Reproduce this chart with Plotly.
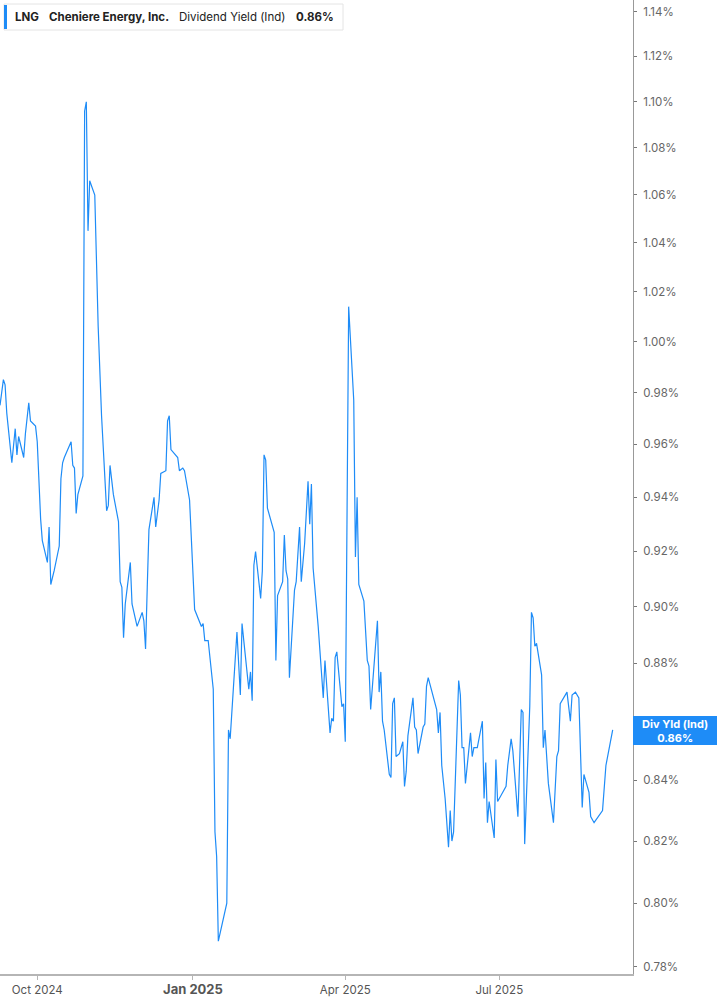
import math
import plotly.graph_objects as go

# LNG dividend yield (indicated), %
dates = [
    "2024-09-09", "2024-09-11", "2024-09-12", "2024-09-13", "2024-09-16", "2024-09-18",
    "2024-09-19", "2024-09-20", "2024-09-23", "2024-09-24", "2024-09-26", "2024-09-27",
    "2024-09-30", "2024-10-01", "2024-10-03", "2024-10-04", "2024-10-07", "2024-10-08",
    "2024-10-09", "2024-10-11", "2024-10-14", "2024-10-15", "2024-10-16", "2024-10-17",
    "2024-10-21", "2024-10-22", "2024-10-23", "2024-10-24", "2024-10-25", "2024-10-28",
    "2024-10-29", "2024-10-30", "2024-10-31", "2024-11-01", "2024-11-04", "2024-11-06",
    "2024-11-08", "2024-11-11", "2024-11-12", "2024-11-13", "2024-11-15", "2024-11-18",
    "2024-11-19", "2024-11-20", "2024-11-21", "2024-11-22", "2024-11-25", "2024-11-26",
    "2024-11-29", "2024-12-02", "2024-12-03", "2024-12-04", "2024-12-05", "2024-12-06",
    "2024-12-09", "2024-12-10", "2024-12-12", "2024-12-13", "2024-12-16", "2024-12-17",
    "2024-12-18", "2024-12-19", "2024-12-23", "2024-12-24", "2024-12-26", "2024-12-27",
    "2024-12-30", "2025-01-02", "2025-01-06", "2025-01-07", "2025-01-08", "2025-01-10",
    "2025-01-13", "2025-01-14", "2025-01-15", "2025-01-16", "2025-01-21", "2025-01-22",
    "2025-01-23", "2025-01-27", "2025-01-29", "2025-01-30", "2025-02-03", "2025-02-04",
    "2025-02-05", "2025-02-06", "2025-02-07", "2025-02-10", "2025-02-11", "2025-02-12",
    "2025-02-13", "2025-02-14", "2025-02-18", "2025-02-19", "2025-02-20", "2025-02-23",
    "2025-02-24", "2025-02-25", "2025-02-26", "2025-02-27", "2025-03-02", "2025-03-03",
    "2025-03-05", "2025-03-06", "2025-03-08", "2025-03-10", "2025-03-11", "2025-03-12",
    "2025-03-13", "2025-03-16", "2025-03-19", "2025-03-20", "2025-03-23", "2025-03-24",
    "2025-03-25", "2025-03-26", "2025-03-27", "2025-03-30", "2025-03-31", "2025-04-01",
    "2025-04-03", "2025-04-05", "2025-04-06", "2025-04-07", "2025-04-08", "2025-04-09",
    "2025-04-12", "2025-04-14", "2025-04-15", "2025-04-16", "2025-04-18", "2025-04-20",
    "2025-04-21", "2025-04-22", "2025-04-23", "2025-04-24", "2025-04-27", "2025-04-28",
    "2025-04-29", "2025-04-30", "2025-05-01", "2025-05-03", "2025-05-05", "2025-05-06",
    "2025-05-07", "2025-05-08", "2025-05-11", "2025-05-12", "2025-05-13", "2025-05-14",
    "2025-05-17", "2025-05-18", "2025-05-19", "2025-05-20", "2025-05-25", "2025-05-26",
    "2025-05-27", "2025-05-28", "2025-05-30", "2025-06-01", "2025-06-02", "2025-06-03",
    "2025-06-04", "2025-06-07", "2025-06-08", "2025-06-09", "2025-06-10", "2025-06-11",
    "2025-06-14", "2025-06-15", "2025-06-16", "2025-06-18", "2025-06-21", "2025-06-22",
    "2025-06-23", "2025-06-24", "2025-06-25", "2025-06-28", "2025-06-29", "2025-06-30",
    "2025-07-02", "2025-07-05", "2025-07-06", "2025-07-08", "2025-07-09", "2025-07-12",
    "2025-07-14", "2025-07-15", "2025-07-16", "2025-07-19", "2025-07-20", "2025-07-21",
    "2025-07-22", "2025-07-23", "2025-07-26", "2025-07-27", "2025-07-28", "2025-07-30",
    "2025-08-02", "2025-08-04", "2025-08-05", "2025-08-06", "2025-08-10", "2025-08-12",
    "2025-08-13", "2025-08-15", "2025-08-17", "2025-08-19", "2025-08-20", "2025-08-23",
    "2025-08-24", "2025-08-26", "2025-08-31", "2025-09-02", "2025-09-06",
]

div_yield = [
    0.975, 0.985, 0.983, 0.972, 0.953, 0.966,
    0.956, 0.963, 0.955, 0.964, 0.976, 0.969,
    0.967, 0.961, 0.932, 0.924, 0.916, 0.929,
    0.908, 0.913, 0.922, 0.947, 0.953, 0.955,
    0.961, 0.952, 0.951, 0.934, 0.941, 0.948,
    1.096, 1.100, 1.045, 1.066, 1.060, 1.006,
    0.971, 0.935, 0.937, 0.952, 0.941, 0.931,
    0.909, 0.907, 0.889, 0.901, 0.916, 0.901,
    0.893, 0.898, 0.895, 0.885, 0.907, 0.928,
    0.940, 0.929, 0.939, 0.949, 0.950, 0.969,
    0.971, 0.958, 0.955, 0.950, 0.951, 0.950,
    0.939, 0.899, 0.893, 0.894, 0.888, 0.888,
    0.871, 0.823, 0.815, 0.788, 0.800, 0.857,
    0.854, 0.891, 0.869, 0.894, 0.871, 0.877,
    0.867, 0.915, 0.920, 0.903, 0.913, 0.956,
    0.954, 0.936, 0.927, 0.881, 0.904, 0.909,
    0.926, 0.913, 0.910, 0.875, 0.906, 0.909,
    0.929, 0.909, 0.923, 0.946, 0.930, 0.945,
    0.914, 0.893, 0.868, 0.881, 0.856, 0.861,
    0.860, 0.882, 0.884, 0.865, 0.866, 0.853,
    1.014, 0.988, 0.977, 0.918, 0.940, 0.908,
    0.902, 0.881, 0.879, 0.864, 0.881, 0.895,
    0.870, 0.877, 0.860, 0.857, 0.842, 0.841,
    0.866, 0.868, 0.848, 0.849, 0.853, 0.838,
    0.843, 0.855, 0.868, 0.858, 0.857, 0.849,
    0.858, 0.859, 0.872, 0.875, 0.864, 0.856,
    0.863, 0.845, 0.834, 0.818, 0.830, 0.820,
    0.823, 0.874, 0.869, 0.851, 0.851, 0.839,
    0.856, 0.848, 0.851, 0.851, 0.860, 0.834,
    0.846, 0.826, 0.833, 0.821, 0.847, 0.833,
    0.835, 0.838, 0.845, 0.854, 0.850, 0.828,
    0.864, 0.863, 0.819, 0.865, 0.898, 0.896,
    0.886, 0.887, 0.876, 0.851, 0.857, 0.839,
    0.826, 0.848, 0.850, 0.866, 0.870, 0.860,
    0.869, 0.870, 0.868, 0.831, 0.842, 0.836,
    0.828, 0.826, 0.830, 0.845, 0.857,
]

y_ticks = [0.78, 0.80, 0.82, 0.84, 0.86, 0.88, 0.90, 0.92, 0.94, 0.96,
           0.98, 1.00, 1.02, 1.04, 1.06, 1.08, 1.10, 1.12, 1.14]
# the 0.86% label sits under the last-value tag, so it is left blank
y_tick_labels = ["" if v == 0.86 else f"{v:.2f}%" for v in y_ticks]

x_ticks = ["2024-10-01", "2025-01-01", "2025-04-01", "2025-07-01"]
x_tick_labels = ["Oct 2024", "<span style='font-size:13px'><b>Jan 2025</b></span>",
                 "Apr 2025", "Jul 2025"]

latest = "0.86%"

BLUE = "#1e8cf7"
W, H = 633, 974  # plot area in px


def px(x):
    return x / W


def py(y):
    return 1 - y / H


fig = go.Figure()
fig.add_trace(go.Scatter(x=dates, y=div_yield, mode="lines",
                         line=dict(color=BLUE, width=1.2), hoverinfo="x+y"))

fig.update_layout(
    width=717, height=1005,
    margin=dict(l=0, r=84, t=0, b=31),
    paper_bgcolor="white", plot_bgcolor="white",
    showlegend=False,
    font=dict(family="Inter, Roboto, sans-serif", color="#555"),
    xaxis=dict(
        type="date", range=["2024-09-09", "2025-09-18"],
        tickvals=x_ticks, ticktext=x_tick_labels,
        showline=True, linecolor="#b5b5b5", linewidth=2,
        ticks="outside", ticklen=4, tickcolor="#b5b5b5",
        showgrid=False, zeroline=False,
        tickfont=dict(size=11.5, color="#555"),
    ),
    yaxis=dict(
        type="log", side="right",
        range=[math.log10(0.7778), math.log10(1.1454)],
        tickvals=y_ticks, ticktext=y_tick_labels,
        showline=True, linecolor="#999", linewidth=1,
        ticks="outside", ticklen=3, tickcolor="#777",
        showgrid=False, zeroline=False,
        tickfont=dict(size=11.5, color="#666"),
        ticklabelstandoff=4,
    ),
)

# header box, top left
fig.add_shape(type="rect", xref="paper", yref="paper",
              x0=px(4), x1=px(343), y0=py(30), y1=py(4),
              line=dict(color="#e4e4e4", width=1), fillcolor="white", layer="above")
fig.add_shape(type="rect", xref="paper", yref="paper",
              x0=px(4), x1=px(7), y0=py(29), y1=py(5),
              line=dict(width=0), fillcolor=BLUE, layer="above")
header = [(13, "<b>LNG</b>"), (47, "<b>Cheniere Energy, Inc.</b>"),
          (177, "Dividend Yield (Ind)"), (294, f"<b>{latest}</b>")]
for x, txt in header:
    fig.add_annotation(x=px(x), y=py(17.5), xref="paper", yref="paper",
                       xanchor="left", yanchor="middle", showarrow=False,
                       text=txt, font=dict(size=11.5, color="#222"))

# last value tag on the right axis
fig.add_shape(type="rect", xref="paper", yref="paper",
              x0=px(633), x1=px(717), y0=py(745), y1=py(716),
              line=dict(width=0), fillcolor=BLUE, layer="above")
fig.add_annotation(x=px(675), y=py(730.5), xref="paper", yref="paper",
                   xanchor="center", yanchor="middle", showarrow=False,
                   text=f"<b>Div Yld (Ind)</b><br><b>{latest}</b>",
                   font=dict(size=11, color="white"))

# page has a default body margin; drop it so the figure sits at 0,0
fig.write_html("out.html", config={"displayModeBar": False},
               post_script="document.body.style.margin='0';")
